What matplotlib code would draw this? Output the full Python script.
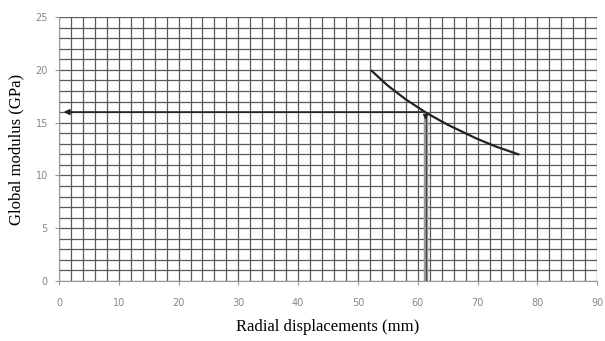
import numpy as np
import matplotlib.pyplot as plt
from matplotlib.ticker import MultipleLocator

# curve
disp = [52.3, 55.0, 58.0, 61.5, 65.0, 69.8, 73.0, 76.8]
modulus = [19.9, 18.5, 17.2, 15.9, 14.8, 13.5, 12.75, 12.0]

# construction lines
target_modulus = 16.0
target_disp = 61.3

fig = plt.figure(figsize=(6.05, 3.41), dpi=100)
ax = fig.add_axes([0.0975, 0.176, 0.8895, 0.774])

ax.set_xlim(0, 90)
ax.set_ylim(0, 25)
ax.xaxis.set_major_locator(MultipleLocator(10))
ax.yaxis.set_major_locator(MultipleLocator(5))
ax.xaxis.set_minor_locator(MultipleLocator(2))
ax.yaxis.set_minor_locator(MultipleLocator(1))
ax.grid(which='both', color='#5a5a5a', linewidth=0.9)
ax.set_axisbelow(True)

for s in ['top', 'right']:
    ax.spines[s].set_visible(False)
for s in ['left', 'bottom']:
    ax.spines[s].set_color('#999999')
ax.tick_params(which='major', length=3, color='#999999', labelsize=7, labelcolor='#888888')
ax.tick_params(axis='x', which='major', pad=9)
ax.tick_params(axis='y', which='major', pad=5)
ax.tick_params(which='minor', length=0)

ax.plot(disp, modulus, color='#222222', linewidth=1.6)

# horizontal arrow to the y axis
ax.annotate('', xy=(0.3, target_modulus), xytext=(target_disp, target_modulus),
            arrowprops=dict(arrowstyle='-|>', color='#222222', lw=1.2, mutation_scale=8))
# vertical arrow down to the x axis
ax.plot([target_disp, target_disp], [0, 15.5], color='#999999', linewidth=3.2)
ax.plot([target_disp, target_disp], [0, 15.5], color='#444444', linewidth=0.8)
ax.annotate('', xy=(target_disp, 15.0), xytext=(target_disp, 16.0),
            arrowprops=dict(arrowstyle='-|>', color='#222222', lw=1.0, mutation_scale=7))

ax.set_xlabel('Radial displacements (mm)', family='Liberation Serif', fontsize=12, labelpad=8)
ax.set_ylabel('Global modulus (GPa)', family='Liberation Serif', fontsize=12, labelpad=8)

fig.savefig('out.png', dpi=100)
